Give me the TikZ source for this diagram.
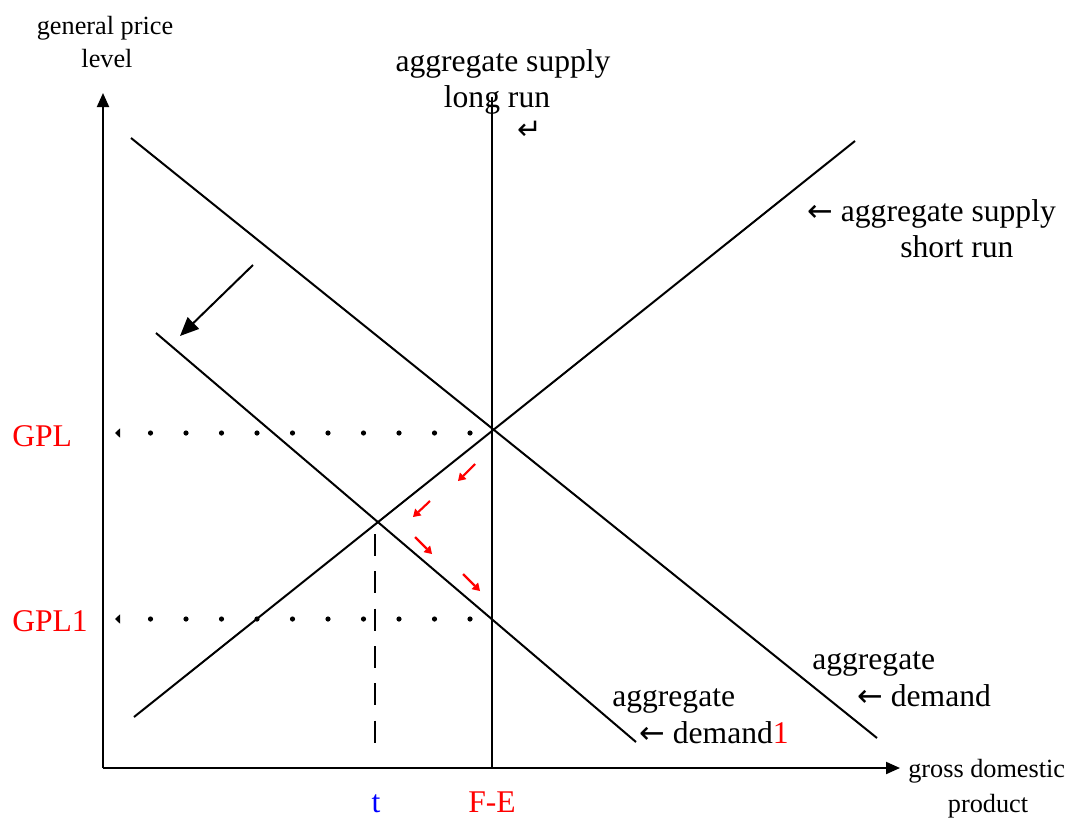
\documentclass[tikz,border=0pt]{standalone}
\usepackage{fontspec}
\setmainfont{Liberation Serif}
\newfontfamily\symfont{DejaVu Sans}
\newcommand{\larr}{{\symfont\fontsize{23}{24}\selectfont ←}}
\usetikzlibrary{arrows.meta}
\definecolor{pureRed}{RGB}{255,0,0}
\definecolor{pureBlue}{RGB}{0,0,255}
\tikzset{
  curve/.style={line width=1.5pt},
  axis/.style={line width=1.5pt,-{Triangle[length=10.5pt,width=9pt]}},
  shiftarr/.style={line width=1.5pt,-{Triangle[length=14pt,width=12pt]}},
  redarr/.style={pureRed,line width=1.6pt,-{Triangle[length=5.5pt,width=7pt,line width=0pt]}},
  dotline/.style={line width=3.9pt,line cap=round,dash pattern=on 0pt off 26.625pt,
    -{Triangle[length=3.75pt,width=7pt,line width=0pt]}},
  tline/.style={line width=1.5pt,dash pattern=on 16.5pt off 11.5pt},
  big/.style={font=\fontsize{23.7}{28}\selectfont,inner sep=0pt,anchor=base west},
  small/.style={font=\fontsize{19.7}{24}\selectfont,inner sep=0pt,anchor=base west},
}
\begin{document}
\begin{tikzpicture}[x=0.75pt,y=-0.75pt]
\useasboundingbox (0,0) rectangle (1070,817);
% coordinates
\coordinate (O) at (103,768);
\coordinate (yT) at (103,93);
\coordinate (xT) at (900,768);
\coordinate (lr0) at (492,768);
\coordinate (lr1) at (492,97);
\coordinate (sr0) at (134,717);
\coordinate (sr1) at (855,141);
\coordinate (ad0) at (131,138);
\coordinate (ad1) at (877,738);
\coordinate (adA) at (156,333);
\coordinate (adB) at (636,742);
\coordinate (sh0) at (253,265);
\coordinate (sh1) at (180,336);
\coordinate (gS) at (470,433);
\coordinate (gE) at (115,433);
\coordinate (g1S) at (470,619);
\coordinate (g1E) at (115,619);
\coordinate (t0) at (375,534);
\coordinate (t1) at (375,746);
\coordinate (r1a) at (475,464); \coordinate (r1b) at (458,481);
\coordinate (r2a) at (430,501); \coordinate (r2b) at (413,517);
\coordinate (r3a) at (415,537); \coordinate (r3b) at (432,554);
\coordinate (r4a) at (463,574); \coordinate (r4b) at (480,591);
% axes
\draw[axis] (O) -- (yT);
\draw[axis] (O) -- (xT);
% curves
\draw[curve] (lr0) -- (lr1);
\draw[curve] (sr0) -- (sr1);
\draw[curve] (ad0) -- (ad1);
\draw[curve] (adA) -- (adB);
\draw[shiftarr] (sh0) -- (sh1);
% guides
\draw[dotline] (gS) -- (gE);
\draw[dotline] (g1S) -- (g1E);
\draw[tline] (t0) -- (t1);
% red arrows
\draw[redarr] (r1a) -- (r1b);
\draw[redarr] (r2a) -- (r2b);
\draw[redarr] (r3a) -- (r3b);
\draw[redarr] (r4a) -- (r4b);
% labels
\node[small,anchor=base] (yl1) at (105,35) {general price};
\node[small,anchor=base] (yl2) at (107,68) {level};
\node[big,anchor=base] (lrl1) at (503,71) {aggregate supply};
\node[big,anchor=base] (lrl2) at (497,108) {long run};
\node[anchor=base,inner sep=0pt,font=\symfont\fontsize{22}{24}\selectfont] (lrl3) at (530,139) {↵};
\node[big] (srl1) at (807,221) {\larr\ aggregate supply};
\node[big] (srl2) at (900,257) {short run};
\node[big] (adl1) at (812,669) {aggregate};
\node[big] (adl2) at (857,706) {\larr\ demand};
\node[big] (ad1l1) at (612,706) {aggregate};
\node[big] (ad1l2) at (639,743) {\larr\ demand\textcolor{pureRed}{1}};
\node[small] (xl1) at (908,777) {gross domestic};
\node[small,anchor=base] (xl2) at (988,812) {product};
\node[big,text=pureRed] (gpl) at (12,446) {GPL};
\node[big,text=pureRed] (gpl1) at (12,631) {GPL1};
\node[big,anchor=base,text=pureBlue] (tl) at (376,812) {t};
\node[big,anchor=base,text=pureRed] (fel) at (492,812) {F-E};
\end{tikzpicture}
\end{document}
